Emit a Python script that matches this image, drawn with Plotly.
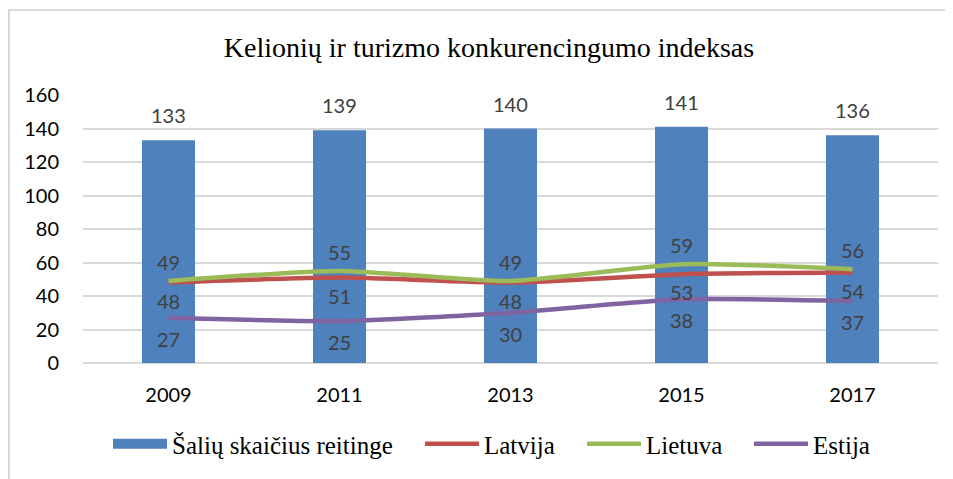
import plotly.graph_objects as go

years = ["2009", "2011", "2013", "2015", "2017"]
countries_in_rating = [133, 139, 140, 141, 136]
latvija = [48, 51, 48, 53, 54]
lietuva = [49, 55, 49, 59, 56]
estija = [27, 25, 30, 38, 37]

title_text = "Kelionių ir turizmo konkurencingumo indeksas"
bar_name = "Šalių skaičius reitinge"

C_BAR = "#4f81bd"
C_LAT = "#c0504d"
C_LIE = "#9bbb59"
C_EST = "#8064a2"
LABEL_COLOR = "#404040"
NUM_FONT = "Lato"
SERIF = "Liberation Serif"

OFF = 8  # default page body margin
W, H = 945, 471
L, R, T, B = 75, 15, 87, 113
pw, ph = W - L - R, H - T - B

def px_x(p):
    return (p - OFF - L) / pw
def px_y(p):
    return (H - B - (p - OFF)) / ph

fig = go.Figure()
fig.add_trace(go.Bar(x=years, y=countries_in_rating, name=bar_name, showlegend=False,
                     marker=dict(color=C_BAR, line=dict(width=0)), width=0.31))
# legend swatch for the bar series (wide rectangle like the reference)
fig.add_trace(go.Scatter(x=[None], y=[None], name=bar_name, mode="lines",
                         line=dict(color=C_BAR, width=17), legend="legend"))
legend_ids = ["legend2", "legend3", "legend4"]
for (name, vals, col), lg in zip([("Latvija", latvija, C_LAT), ("Lietuva", lietuva, C_LIE),
                                  ("Estija", estija, C_EST)], legend_ids):
    fig.add_trace(go.Scatter(x=years, y=vals, name=name, mode="lines", legend=lg,
                             line=dict(color=col, width=4.5, shape="spline", smoothing=0.6)))

ann = []
def add_labels(vals, shift):
    for i, v in enumerate(vals):
        ann.append(dict(x=i, y=v, xref="x", yref="y", text=str(v), showarrow=False, yshift=shift,
                        xanchor="center", yanchor="middle",
                        font=dict(family=NUM_FONT, size=20, color=LABEL_COLOR)))
add_labels(countries_in_rating, 25)
add_labels(lietuva, 19)
add_labels(latvija, -18)
add_labels(estija, -21)

shapes = [
    dict(type="line", xref="paper", yref="paper", x0=px_x(8), x1=px_x(960), y0=px_y(9), y1=px_y(9),
         line=dict(color="#d9d9d9", width=2)),
    dict(type="line", xref="paper", yref="paper", x0=px_x(9), x1=px_x(9), y0=px_y(9), y1=px_y(490),
         line=dict(color="#d9d9d9", width=2)),
]

def leg(px_left):
    return dict(orientation="h", x=px_x(px_left), xanchor="left", y=px_y(448), yanchor="middle",
                font=dict(family=SERIF, size=25, color="#000000"), itemwidth=54,
                bgcolor="rgba(0,0,0,0)")

fig.update_layout(
    width=W, height=H,
    margin=dict(l=L, r=R, t=T, b=B),
    paper_bgcolor="white", plot_bgcolor="white",
    title=dict(text=title_text, x=(489 - OFF) / W, xanchor="center", y=1 - (47 - OFF) / H, yanchor="middle",
               font=dict(family=SERIF, size=28, color="#000000")),
    showlegend=True,
    legend=leg(113 - 5),
    legend2=leg(425 - 5),
    legend3=leg(587 - 5),
    legend4=leg(754 - 5),
    annotations=ann,
    shapes=shapes,
    xaxis=dict(type="category", showgrid=False, showline=False, ticks="",
               tickfont=dict(family=NUM_FONT, size=20, color="#000000"), ticklabelstandoff=18),
    yaxis=dict(range=[0, 160], dtick=20, showgrid=True, gridcolor="#d9d9d9", gridwidth=2,
               zeroline=True, zerolinecolor="#d9d9d9", zerolinewidth=2, showline=False, ticks="",
               tickfont=dict(family=NUM_FONT, size=20, color="#000000"), ticklabelstandoff=23),
)

fig.write_html("out.html")
